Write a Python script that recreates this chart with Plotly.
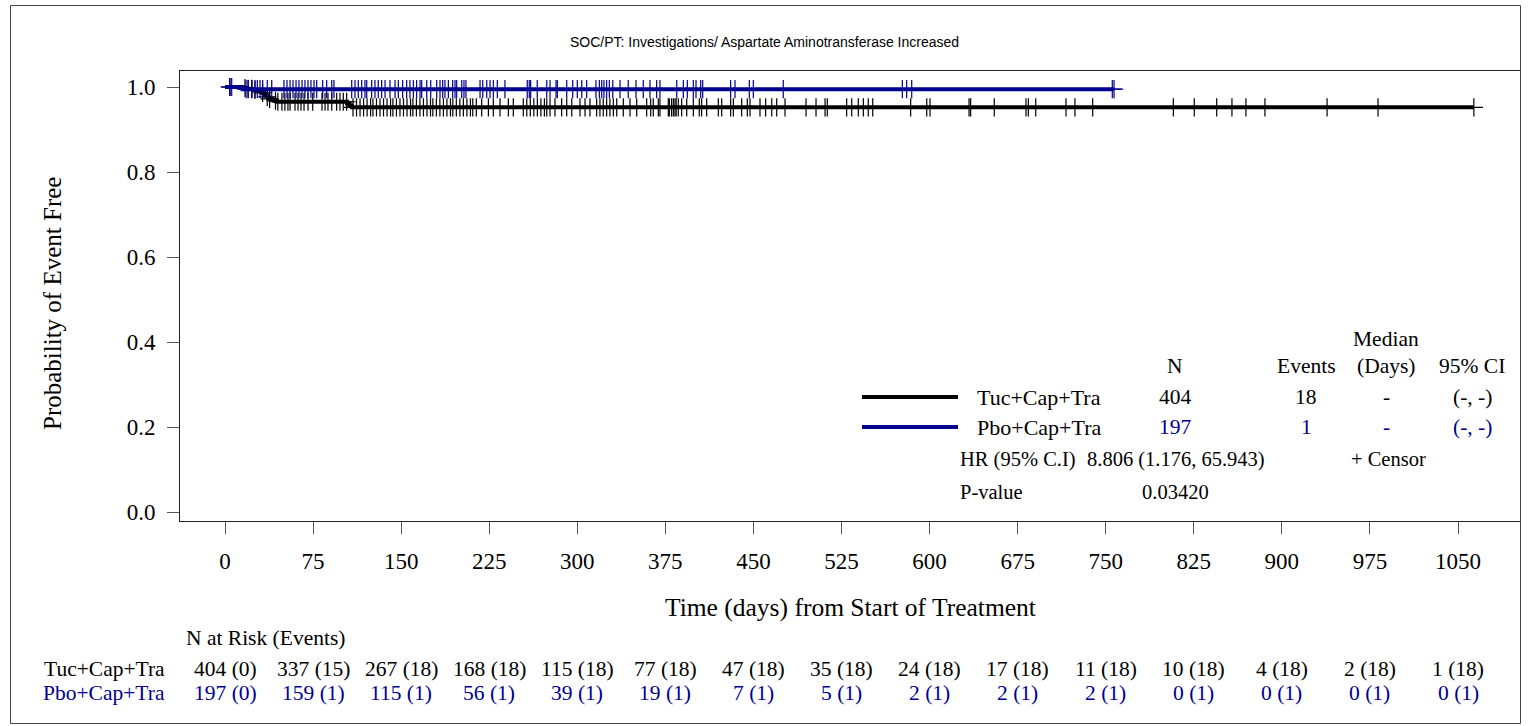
import plotly.graph_objects as go

# ---------------- data ----------------
title_text = "SOC/PT: Investigations/ Aspartate Aminotransferase Increased"
groups = ["Tuc+Cap+Tra", "Pbo+Cap+Tra"]

# Kaplan-Meier steps (event days and survival after each event)
tuc_event_days = [15, 19, 24, 29, 31, 32, 33, 34, 35, 36, 37, 38, 40, 42, 44, 104, 106, 108]
tuc_event_surv = [0.99769, 0.99538, 0.99307, 0.99076, 0.98845, 0.98614, 0.98383, 0.98152,
                  0.97921, 0.97690, 0.97459, 0.97228, 0.96997, 0.96766, 0.96535,
                  0.96100, 0.95660, 0.95220]
tuc_last_day = 1063.5

pbo_event_days = [15]
pbo_event_surv = [0.9949]
pbo_last_day = 757.1

# censor times (days)
tuc_censor = [4, 17, 19.6, 23, 25.5, 32, 36, 38, 43, 45, 48.5, 51, 53.6, 55.4, 59.6, 62.2, 64.7,
              67.3, 70.7, 74.7, 82.6, 85.2, 87.7, 90.9, 95.1, 97.9, 100.7, 103.6,
              109, 112, 115, 118, 121, 124, 126, 129, 132, 135, 138, 141, 143, 146, 149, 152,
              155, 158, 160, 163, 166, 169, 172, 175, 177, 180, 183, 186, 189, 192, 194, 197,
              200, 203, 206, 209, 211, 214, 218.6, 224.3, 228.5, 234.2, 241.3, 245.5, 254, 257,
              260, 263, 266, 269, 272, 274, 276.8, 281, 286.7, 291, 295.3, 302.3, 306.6, 310.8,
              316.5, 319.3, 322.1, 325, 327.8, 330.7, 333.6, 339.2, 344.9, 350.6, 359.1, 362.5,
              364.7, 369, 370.4, 377.5, 378.4, 380.3, 381.8, 383.2, 384.2, 386, 388.9, 393.2,
              398.8, 403.9, 405.9, 410.2, 420.1, 423, 430.6, 432.9, 440, 444.8, 447.1, 455.6,
              460.4, 465.6, 469.8, 476.9, 494.8, 503.3, 511, 512.9, 529.4, 533.7, 539.3, 543.6,
              547.8, 551.6, 583.9, 597.6, 600.4, 633.6, 635, 655.1, 682.1, 684.1, 690.4, 716.2,
              723.8, 738.9, 807.6, 825.4, 844.5, 857.5, 869.4, 885.6, 938.5, 981.9, 1063.5]
pbo_censor = [4.3, 5.7, 17.9, 19.8, 22.7, 25.5, 27.5, 29.8, 32.1, 36, 39.8, 50.2, 52.8, 55.4,
              57.9, 60.5, 63, 65.6, 68.1, 70.7, 73.2, 75.8, 78.1, 83.2, 86.6, 90.9, 92.8, 107.9,
              110.7, 113.5, 116.4, 119.2, 120.7, 124.9, 127.7, 130.5, 133.4, 136.3, 140.5, 144.8,
              147.6, 151.3, 154.7, 157.5, 160.4, 163.2, 166.1, 167.5, 171.8, 175.2, 180.3, 183.1,
              185.4, 187.3, 190.2, 193.9, 195.9, 197.3, 201.6, 203.5, 205.2, 217.2, 219.5, 222.9,
              225.7, 228.5, 231.9, 238.4, 257.4, 259.1, 260.3, 265.9, 274, 276.8, 281.9, 283,
              291, 296.1, 300, 303.8, 308, 315.9, 318.8, 320.8, 322.7, 325, 327.3, 330.2, 336.4,
              343.4, 350, 356.2, 361.9, 367.6, 370.4, 384.7, 390.3, 393.7, 398.8, 401.1, 405.1,
              406.8, 430.6, 434.3, 446.5, 449.9, 475.4, 576.8, 580.5, 584.8, 755.6, 757.1]

# axis ticks
x_ticks = [0, 75, 150, 225, 300, 375, 450, 525, 600, 675, 750, 825, 900, 975, 1050]
y_ticks = [0.0, 0.2, 0.4, 0.6, 0.8, 1.0]

# number at risk (events)
tuc_risk = ["404 (0)", "337 (15)", "267 (18)", "168 (18)", "115 (18)", "77 (18)", "47 (18)",
            "35 (18)", "24 (18)", "17 (18)", "11 (18)", "10 (18)", "4 (18)", "2 (18)", "1 (18)"]
pbo_risk = ["197 (0)", "159 (1)", "115 (1)", "56 (1)", "39 (1)", "19 (1)", "7 (1)", "5 (1)",
            "2 (1)", "2 (1)", "2 (1)", "0 (1)", "0 (1)", "0 (1)", "0 (1)"]

# summary table
summary_header = ["N", "Events", "(Days)", "95% CI"]
tuc_summary = ["404", "18", "-", "(-, -)"]
pbo_summary = ["197", "1", "-", "(-, -)"]
hr_text = "8.806 (1.176, 65.943)"
p_text = "0.03420"

# ---------------- style ----------------
BLACK = "#000000"
BLUE = "#00008F"
SERIF = "Liberation Serif"
SANS = "Liberation Sans"

W, H = 1528, 726
L, R, T, B = 180, 1520, 71, 521  # plot area in pixels


def px(xp):
    return (xp - L) / (R - L)


def py(yp):
    return (B - yp) / (B - T)


def step_xy(days, surv, last):
    xs = [0] + list(days) + [last]
    ys = [1.0] + list(surv) + [surv[-1]]
    return xs, ys


def surv_at(t, days, surv):
    s = 1.0
    for d, v in zip(days, surv):
        if d <= t:
            s = v
    return s


fig = go.Figure()

for days, surv, last, cens, col in [
    (tuc_event_days, tuc_event_surv, tuc_last_day, tuc_censor, BLACK),
    (pbo_event_days, pbo_event_surv, pbo_last_day, pbo_censor, BLUE),
]:
    xs, ys = step_xy(days, surv, last)
    fig.add_trace(go.Scatter(x=xs, y=ys, mode="lines", line=dict(color=col, width=4, shape="hv"),
                             showlegend=False, hoverinfo="skip"))
    fig.add_trace(go.Scatter(x=cens, y=[surv_at(t, days, surv) for t in cens], mode="markers",
                             marker=dict(symbol="cross-thin", size=13, color=col,
                                         line=dict(color=col, width=1.2)),
                             showlegend=False, hoverinfo="skip"))

x_per_day = 1233 / 1050
fig.update_xaxes(range=[(L - 225) / x_per_day, (R - 225) / x_per_day], tickvals=x_ticks,
                 ticktext=[str(v) for v in x_ticks], ticks="outside", ticklen=12, tickwidth=1,
                 tickcolor="#555", showline=True, linecolor="#222", linewidth=1, mirror=True,
                 showgrid=False, zeroline=False, tickfont=dict(family=SERIF, size=23, color=BLACK),
                 ticklabelstandoff=7)
fig.update_yaxes(range=[-9 / 425, 1 + 16 / 425], tickvals=y_ticks,
                 ticktext=[f"{v:.1f}" for v in y_ticks], ticks="outside", ticklen=12, tickwidth=1,
                 tickcolor="#555", showline=True, linecolor="#222", linewidth=1, mirror=True,
                 showgrid=False, zeroline=False, tickfont=dict(family=SERIF, size=23, color=BLACK),
                 ticklabelstandoff=7)

ann = []


def text(x, y, s, size=22, color=BLACK, xanchor="center", family=SERIF, xref="paper", angle=0):
    ann.append(dict(x=x, y=y, xref=xref, yref="paper", text=s, showarrow=False, xanchor=xanchor,
                    yanchor="middle", textangle=angle,
                    font=dict(family=family, size=size, color=color)))


# titles
text(px(W / 2), py(42), title_text, size=14, family=SANS)
text(px(850), py(607), "Time (days) from Start of Treatment", size=25.5)
text(px(52), py(304), "Probability of Event Free", size=25, angle=-90)

# risk table
RISK_FS = 21
text(px(184), py(638), "N at Risk (Events)", size=21.5, xanchor="left")
text(px(167), py(669), groups[0], size=RISK_FS + 0.5, xanchor="right")
text(px(167), py(693), groups[1], size=RISK_FS + 0.5, xanchor="right", color=BLUE)
for xv, a, b in zip(x_ticks, tuc_risk, pbo_risk):
    text(xv, py(669), a, size=RISK_FS + 0.5, xref="x")
    text(xv, py(693), b, size=RISK_FS + 0.5, xref="x", color=BLUE)

# summary legend
col_x = [1175, 1306, 1386, 1472]
text(px(1386), py(339), "Median", size=21.5)
for cx, h in zip(col_x, summary_header):
    text(px(cx), py(366), h, size=21.5)
for rowy, name, vals, col in [(397, groups[0], tuc_summary, BLACK), (427, groups[1], pbo_summary, BLUE)]:
    text(px(975), py(rowy), name, size=22, xanchor="left")
    for cx, v in zip(col_x, vals):
        text(px(cx), py(rowy), v, size=21.5, color=col)
text(px(958), py(459), "HR (95% C.I)", size=20.5, xanchor="left")
text(px(1085), py(459), hr_text, size=20.5, xanchor="left")
text(px(1388), py(459), "+ Censor", size=20.5)
text(px(958), py(492), "P-value", size=20.5, xanchor="left")
text(px(1175), py(492), p_text, size=20.5)

shapes = [
    dict(type="line", xref="paper", yref="paper", x0=px(862), x1=px(958), y0=py(397), y1=py(397),
         line=dict(color=BLACK, width=4)),
    dict(type="line", xref="paper", yref="paper", x0=px(862), x1=px(958), y0=py(427), y1=py(427),
         line=dict(color=BLUE, width=4)),
    dict(type="rect", xref="paper", yref="paper", x0=px(10.5), x1=px(1520.5), y0=py(723.5), y1=py(5.5),
         line=dict(color="#444", width=1)),
]

fig.update_layout(width=W, height=H, margin=dict(l=L, r=W - R, t=T, b=H - B),
                  plot_bgcolor="white", paper_bgcolor="white", annotations=ann, shapes=shapes,
                  showlegend=False)

fig.write_html("out.html", config={"displayModeBar": False},
               post_script="document.body.style.margin='0';document.body.style.overflow='hidden';")
